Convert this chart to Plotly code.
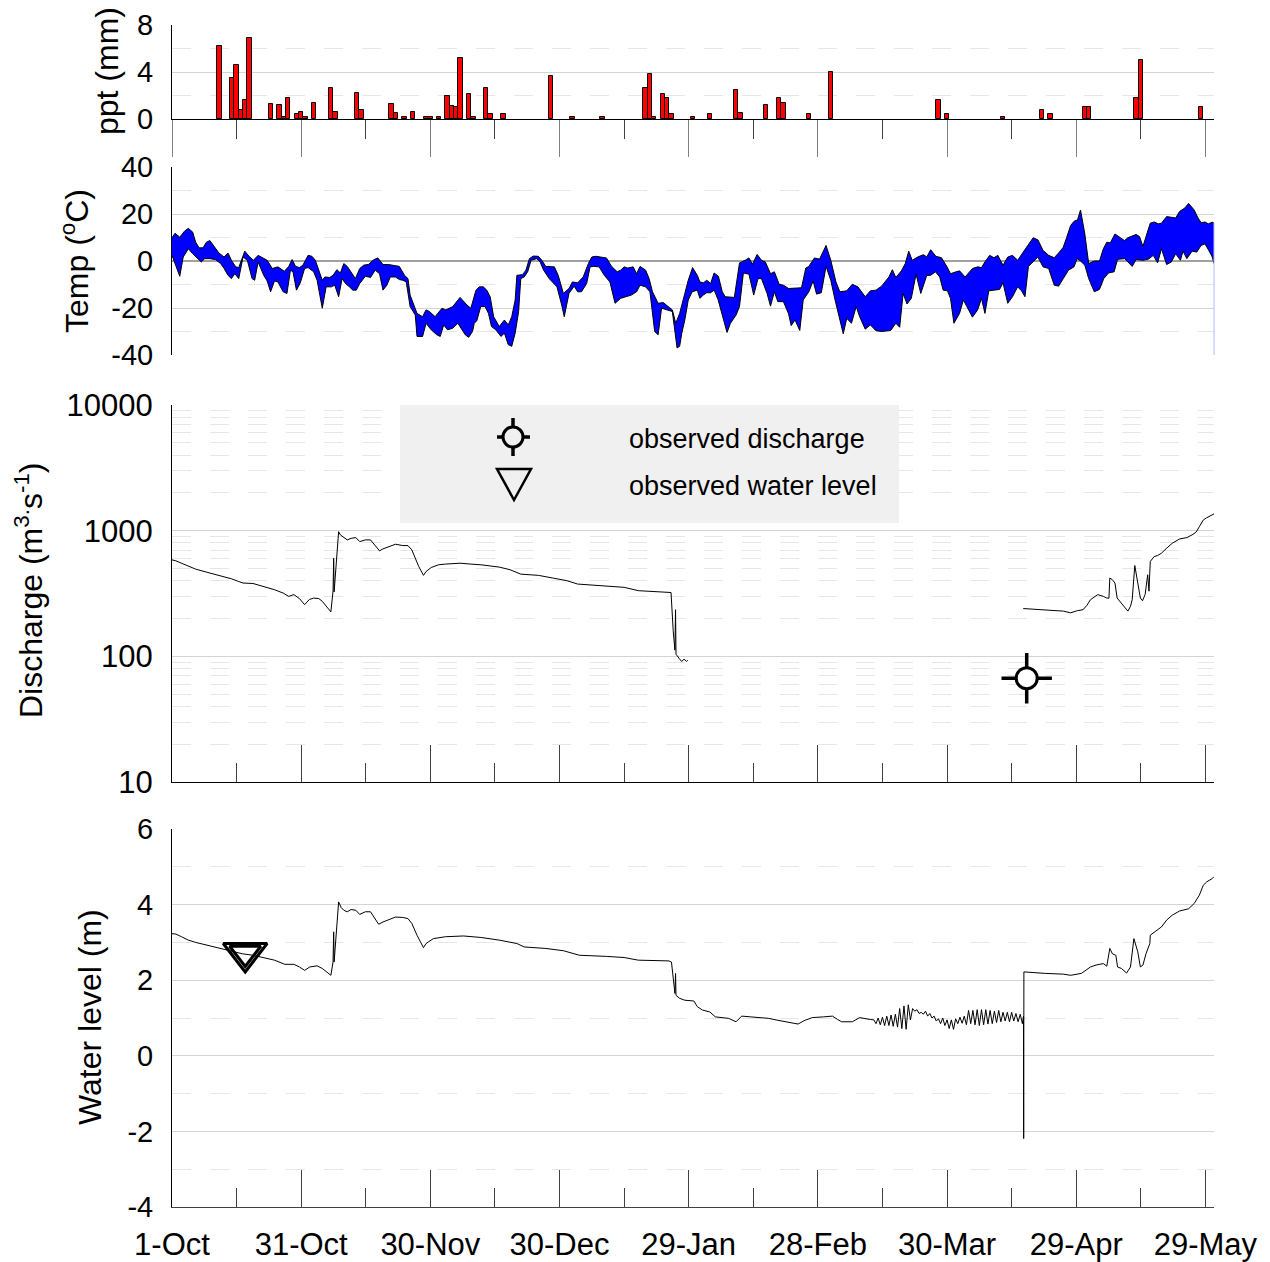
import plotly.graph_objects as go

# ---------------- data ----------------
x_tick_days = [0, 30, 60, 90, 120, 150, 180, 210, 240]
x_tick_labels = ["1-Oct", "31-Oct", "30-Nov", "30-Dec", "29-Jan", "28-Feb", "30-Mar", "29-Apr", "29-May"]
x_minor_days = [15, 45, 75, 105, 135, 165, 195, 225]

# daily precipitation (day offset from 1-Oct, mm)
ppt_day = [11, 14, 15, 16, 17, 18, 23, 25, 26, 27, 29, 30, 31, 33, 37, 38, 43, 44, 51, 52,
           54, 56, 59, 60, 62, 64, 65, 66, 67, 69, 70, 73, 74, 77, 88, 93, 100, 110, 111, 112,
           114, 115, 116, 121, 125, 131, 132, 138, 141, 142, 148, 153, 178, 180, 193, 202, 204,
           212, 213, 224, 225, 239]
ppt_mm = [6.2, 3.5, 4.6, 0.8, 1.6, 6.9, 1.3, 1.2, 0.2, 1.8, 0.4, 0.6, 0.2, 1.4, 2.6, 0.6, 2.2, 0.8, 1.3, 0.5,
          0.2, 0.6, 0.2, 0.2, 0.2, 2.0, 1.1, 1.0, 5.2, 2.1, 0.2, 2.6, 0.4, 0.4, 3.7, 0.2, 0.2, 2.6, 3.8, 0.2,
          2.1, 1.8, 0.4, 0.2, 0.4, 2.5, 0.5, 1.2, 1.8, 1.4, 0.4, 4.0, 1.6, 0.4, 0.2, 0.8, 0.4,
          1.0, 1.0, 1.8, 5.0, 1.0]

# daily max temperature (day, degC)
tmax = [(0, 9.9), (0.7, 11.8), (1.8, 10.1), (2.9, 12.7), (3.8, 13.9), (4.8, 12.3), (5.5, 8.0), (6.3, 5.6),
        (7.2, 5.6), (8.0, 8.0), (8.8, 8.7), (9.7, 6.2), (10.9, 3.4), (12.1, 1.7), (13.0, 3.4), (13.8, 0.3),
        (14.8, -2.5), (15.5, -2.8), (16.5, 2.7), (16.9, 4.2), (17.9, 2.0), (18.9, 0.3), (20.0, 2.4), (21.3, 1.0),
        (22.1, 0.3), (23.3, -3.2), (24.6, -2.5), (26.1, -4.4), (27.1, -2.3), (27.9, 0.6), (28.7, -2.3),
        (29.6, -2.8), (30.4, -1.8), (31.6, 2.4), (32.5, 2.0), (33.3, 0.3), (34.1, -3.9), (34.9, -8.2),
        (35.5, -6.8), (36.6, -7.0), (37.4, -6.1), (38.3, -3.7), (39.1, -5.1), (39.9, -1.1), (40.7, -2.3),
        (42.0, -6.1), (42.6, -7.5), (43.6, -3.2), (44.5, -1.8), (45.7, -1.4), (46.9, 0.6), (47.8, 1.3),
        (49.0, -1.5), (50.3, -1.5), (51.5, -1.8), (52.8, -2.3), (54.0, -6.1), (54.8, -7.5), (55.3, -14.5),
        (56.1, -18.0), (56.9, -22.3), (58.2, -23.7), (59.0, -20.8), (59.8, -21.5), (61.1, -23.7), (62.7, -20.1),
        (63.6, -20.8), (65.2, -19.4), (66.9, -15.5), (68.5, -18.7), (69.4, -20.1), (70.6, -12.4), (71.4, -11.0),
        (72.3, -11.0), (73.1, -12.4), (73.9, -15.2), (74.7, -23.7), (76.0, -27.9), (77.2, -25.1), (78.1, -27.2),
        (78.9, -23.7), (79.7, -16.6), (80.1, -6.1), (81.4, -5.8), (82.2, -3.9), (83.0, 1.0), (83.9, 2.1),
        (85.1, 2.0), (85.9, 0.3), (86.8, -2.3), (88.0, -2.3), (88.8, -2.5), (89.7, -6.1), (90.9, -13.8),
        (92.2, -11.7), (93.0, -8.9), (94.2, -9.3), (95.5, -6.8), (96.7, -1.1), (97.5, 1.7), (98.4, 2.0),
        (100.0, 1.7), (100.9, 1.3), (102.1, -2.3), (103.4, -4.6), (104.2, -3.9), (105.0, -2.5), (105.8, -3.0),
        (107.1, -2.5), (107.9, -5.4), (108.7, -2.3), (110.0, -3.9), (110.8, -7.5), (111.6, -13.1), (112.9, -18.0),
        (114.1, -17.7), (115.4, -19.4), (116.2, -20.8), (117.0, -26.5), (117.9, -22.3), (119.1, -13.8),
        (119.9, -8.2), (120.9, -2.8), (122.0, -6.1), (122.6, -8.9), (123.4, -9.3), (124.2, -8.2), (125.1, -9.6),
        (125.9, -5.1), (126.9, -6.5), (127.8, -13.1), (128.5, -15.2), (130.6, -15.5), (131.8, -0.8), (133.1, 0.3),
        (134.0, 1.3), (134.8, -1.4), (135.9, 2.8), (136.9, 0.3), (137.8, -0.4), (139.0, -5.4), (139.9, -4.6),
        (141.0, -9.9), (142.0, -10.3), (143.2, -11.7), (145.4, -11.7), (146.2, -11.4), (147.2, -3.0),
        (147.9, -2.3), (149.2, 1.3), (150.4, 0.8), (151.9, 6.6), (153.0, 0.3), (154.2, -8.9), (155.1, -13.1),
        (156.7, -12.7), (158.0, -9.9), (159.3, -11.0), (161.0, -15.2), (162.2, -12.7), (163.5, -12.4),
        (164.8, -10.7), (166.5, -6.8), (167.3, -3.7), (168.1, -7.0), (169.4, -4.2), (170.3, -1.1), (171.1, 4.2),
        (171.9, 0.3), (173.2, 1.7), (174.5, 2.7), (175.3, 1.7), (176.2, 4.8), (177.4, 2.0), (178.7, 1.4),
        (180.0, -2.5), (180.8, -5.4), (182.1, -4.6), (182.9, -4.2), (184.2, -6.8), (185.9, -3.2), (187.1, -2.5),
        (188.0, -2.8), (188.8, -0.4), (189.9, 2.4), (190.9, 1.4), (191.8, 2.4), (193.0, -1.8), (194.1, 1.7),
        (195.2, 2.4), (196.4, 0.3), (197.7, 3.8), (198.9, 7.0), (200.0, 9.9), (201.1, 9.0), (202.3, 4.5),
        (203.6, 2.4), (204.9, 1.4), (206.1, 3.8), (207.0, 5.9), (207.8, 10.1), (208.7, 15.1), (209.5, 16.9),
        (210.3, 17.5), (211.0, 21.7), (212.0, 11.5), (212.9, -1.1), (214.2, 0.0), (215.4, 0.0), (216.3, 5.2),
        (217.1, 8.0), (217.9, 7.7), (219.0, 11.5), (220.1, 9.9), (221.2, 8.7), (222.0, 9.9), (223.0, 10.8),
        (223.9, 11.3), (224.7, 10.4), (225.5, 6.2), (226.4, 11.5), (227.2, 16.1), (228.1, 16.6), (229.1, 15.8),
        (229.8, 16.1), (231.0, 18.9), (232.1, 18.6), (233.1, 18.3), (234.0, 21.1), (235.2, 22.5), (236.1, 24.5),
        (237.4, 21.7), (238.2, 18.6), (239.0, 16.3), (239.9, 16.6), (240.7, 15.8), (241.6, 16.5), (242.0, 16.1)]

# daily min temperature (day, degC)
tmin = [(0, 2.4), (0.9, -2.5), (1.8, -6.5), (2.6, 1.7), (3.8, 5.2), (4.8, 3.1), (5.9, 1.0), (6.8, -0.4),
        (7.6, 1.0), (8.8, 1.0), (10.1, 0.6), (11.3, -1.1), (12.1, -3.2), (13.0, -6.1), (13.8, -7.5), (14.6, -5.4),
        (15.5, -7.5), (16.5, 1.7), (17.5, 0.3), (18.6, -7.5), (19.2, -8.2), (20.0, -0.4), (21.3, -6.1),
        (22.1, -8.5), (22.9, -13.1), (23.8, -8.5), (24.6, -8.9), (25.8, -13.1), (26.7, -13.8), (27.5, -3.9),
        (28.1, -4.6), (28.9, -12.4), (29.8, -9.3), (30.8, -3.2), (31.6, -2.8), (32.9, -4.6), (33.7, -8.2),
        (34.9, -20.1), (35.8, -11.0), (37.0, -11.0), (37.8, -10.3), (38.7, -15.2), (39.5, -7.5), (40.3, -9.6),
        (41.2, -11.0), (42.0, -12.4), (42.8, -12.4), (43.6, -9.6), (44.9, -6.5), (46.1, -7.0), (47.2, -3.9),
        (48.2, -5.4), (49.0, -12.4), (49.9, -10.3), (50.7, -6.8), (51.9, -6.8), (52.8, -7.9), (53.6, -8.2),
        (54.4, -8.9), (55.3, -19.4), (56.5, -23.0), (56.9, -32.1), (58.2, -32.1), (59.0, -26.5), (60.2, -29.3),
        (61.5, -31.4), (62.3, -32.1), (63.1, -27.2), (64.0, -29.3), (65.2, -28.6), (66.4, -26.5), (67.3, -29.3),
        (68.1, -31.4), (68.9, -32.5), (69.8, -30.0), (70.2, -26.5), (70.8, -25.4), (71.7, -19.4), (72.7, -19.4),
        (73.5, -22.3), (74.2, -27.9), (75.2, -29.3), (76.4, -32.1), (77.2, -30.7), (78.1, -35.6), (78.9, -36.3),
        (79.7, -30.7), (80.5, -21.5), (81.0, -7.5), (81.8, -6.8), (82.6, -4.6), (83.4, 0.3), (84.7, 1.0),
        (85.5, -0.4), (86.3, -3.9), (87.6, -7.5), (88.4, -8.9), (89.4, -11.0), (90.5, -18.7), (91.1, -23.7),
        (92.2, -13.8), (93.4, -10.7), (94.2, -13.1), (95.1, -13.1), (96.3, -9.6), (97.1, -2.5), (97.9, -2.3),
        (99.2, -2.5), (100.4, -6.1), (101.7, -8.9), (102.9, -18.0), (104.2, -15.9), (105.4, -15.2), (106.7, -14.5),
        (107.9, -13.1), (108.7, -10.3), (110.0, -11.0), (111.0, -13.1), (112.1, -30.0), (112.9, -31.4),
        (113.7, -20.1), (115.0, -20.8), (116.2, -21.5), (117.3, -37.0), (117.9, -36.3), (118.4, -30.7),
        (119.1, -25.1), (119.9, -16.6), (120.8, -13.1), (122.0, -12.4), (122.6, -15.9), (123.4, -14.5),
        (124.2, -13.5), (125.1, -13.5), (125.9, -12.4), (126.8, -16.3), (127.6, -21.5), (128.9, -30.4),
        (129.7, -26.5), (131.0, -23.0), (131.8, -19.4), (132.7, -5.1), (134.0, -5.6), (135.1, -14.5),
        (136.1, -7.5), (136.9, -7.5), (138.2, -13.8), (139.0, -19.2), (139.9, -13.1), (140.7, -17.3),
        (142.0, -17.3), (143.2, -22.5), (143.8, -27.5), (144.7, -25.1), (145.8, -29.6), (146.6, -16.6),
        (147.9, -13.1), (148.9, -8.5), (149.7, -14.1), (150.8, -13.5), (151.9, -2.3), (153.0, -8.2),
        (154.0, -16.6), (155.1, -25.1), (155.9, -31.0), (156.7, -24.4), (157.8, -26.5), (158.9, -19.4),
        (159.7, -23.7), (161.0, -29.0), (162.2, -27.2), (163.5, -29.7), (164.8, -30.0), (166.9, -29.6),
        (168.1, -26.5), (169.0, -28.2), (169.8, -13.8), (170.7, -18.3), (171.7, -15.9), (172.8, -5.6),
        (173.9, -13.8), (175.3, -6.1), (176.2, -6.1), (177.3, -4.6), (178.3, -6.8), (179.1, -12.4),
        (180.1, -12.7), (180.8, -15.9), (181.6, -26.5), (182.9, -22.3), (183.8, -16.6), (184.6, -19.4),
        (185.9, -23.9), (187.1, -20.8), (188.0, -15.9), (188.8, -22.3), (189.7, -12.7), (190.9, -12.4),
        (192.2, -12.1), (193.0, -9.3), (194.1, -18.0), (195.2, -15.2), (196.4, -11.0), (197.3, -12.7),
        (198.1, -15.2), (198.9, -2.3), (200.2, 0.0), (201.1, 1.7), (202.3, -2.5), (203.6, -3.2), (204.9, -10.3),
        (205.9, -10.7), (207.0, -7.5), (208.2, -3.9), (209.5, -2.5), (210.2, 1.0), (211.0, 0.0), (212.0, -1.8),
        (212.9, -7.5), (214.2, -13.1), (215.4, -12.1), (216.4, -7.5), (217.5, -5.1), (218.8, -4.6), (219.6, 0.7),
        (221.2, 1.0), (222.0, -0.4), (223.0, -2.3), (223.9, 0.6), (225.5, 0.3), (226.8, 0.8), (227.9, 2.4),
        (228.9, -0.8), (229.8, 5.2), (231.0, -1.5), (232.1, -0.4), (233.1, 3.1), (234.2, 0.3), (234.8, 4.2),
        (235.7, 1.0), (236.9, 4.2), (238.0, 3.8), (239.0, 6.6), (239.9, 7.3), (240.7, 4.8), (241.6, 1.7),
        (242.0, -1.1)]

# simulated discharge (day, m3/s), two segments
q_part1 = [(0, 586), (0.9, 575), (2.2, 551), (3.8, 519), (5.5, 494), (8.0, 468), (10.5, 446), (13.8, 414),
           (15.5, 394), (16.5, 383), (18.8, 380), (21.3, 360), (23.8, 339), (25.8, 319), (27.1, 300), (28.3, 310),
           (29.6, 288), (30.8, 258), (31.9, 283), (32.9, 291), (34.1, 288), (34.9, 274), (35.5, 258), (36.2, 243),
           (36.9, 226), (37.4, 330), (37.55, 603), (37.65, 325), (38.3, 700), (38.7, 982), (39.1, 925),
           (39.9, 881), (40.7, 844), (41.6, 869), (42.7, 881), (43.6, 818), (44.9, 844), (46.1, 844), (46.9, 780),
           (48.2, 691), (49.0, 716), (50.3, 743), (51.9, 780), (53.6, 761), (54.8, 761), (55.7, 703), (56.5, 604),
           (57.3, 519), (58.4, 441), (59.0, 473), (60.2, 509), (61.9, 535), (63.5, 542), (66.9, 551), (69.4, 542),
           (71.8, 535), (76.0, 513), (78.5, 489), (81.0, 451), (85.1, 441), (88.4, 420), (91.7, 400), (94.2, 376),
           (96.7, 372), (100.9, 365), (105.0, 354), (108.3, 333), (111.6, 329), (115.4, 325), (115.9, 322),
           (116.4, 160), (116.8, 112), (116.95, 235), (117.05, 104), (117.8, 96), (118.4, 91), (118.9, 95),
           (119.5, 91), (119.8, 93)]
q_part2 = [(197.7, 240), (202.8, 233), (207.0, 229), (208.7, 222), (210.3, 231), (211.6, 235), (212.5, 255),
           (213.3, 282), (214.2, 295), (215.0, 310), (216.3, 300), (217.1, 291), (217.6, 290), (217.8, 420),
           (218.4, 407), (219.0, 383), (219.5, 291), (220.1, 274), (220.7, 258), (221.3, 243), (222.0, 229),
           (222.6, 250), (223.0, 282), (223.6, 528), (224.3, 394), (224.9, 291), (225.4, 277), (226.0, 310),
           (226.6, 446), (226.9, 330), (227.2, 569), (228.1, 622), (228.9, 634), (229.8, 662), (231.0, 725),
           (232.3, 794), (234.0, 859), (235.7, 881), (236.9, 925), (237.8, 970), (238.6, 1076), (239.5, 1215),
           (240.3, 1267), (241.6, 1330), (242.0, 1360)]
obs_q_day = [198.5]
obs_q = [67]

# water level (day, m)
wl = [(0, 3.23), (0.9, 3.22), (2.2, 3.15), (3.8, 3.06), (5.5, 3.00), (8.0, 2.93), (10.5, 2.85), (13.0, 2.79),
      (16.3, 2.70), (18.8, 2.66), (21.3, 2.60), (23.8, 2.53), (26.2, 2.42), (28.3, 2.42), (29.6, 2.35),
      (30.8, 2.26), (32.0, 2.35), (33.7, 2.38), (34.9, 2.31), (36.2, 2.19), (36.9, 2.13), (37.4, 2.48),
      (37.55, 3.28), (37.65, 2.48), (38.3, 3.6), (38.7, 4.07), (39.3, 3.92), (39.9, 3.85), (40.7, 3.81),
      (41.6, 3.87), (42.7, 3.85), (43.6, 3.74), (44.9, 3.81), (46.1, 3.81), (46.9, 3.67), (48.0, 3.48),
      (49.0, 3.54), (50.3, 3.60), (51.9, 3.67), (53.6, 3.66), (54.8, 3.63), (55.7, 3.50), (56.9, 3.19),
      (58.4, 2.86), (59.0, 2.97), (60.7, 3.10), (63.5, 3.15), (67.7, 3.17), (71.8, 3.13), (76.0, 3.06),
      (80.1, 2.97), (81.8, 2.88), (86.8, 2.84), (90.9, 2.78), (94.6, 2.66), (100.9, 2.63), (105.0, 2.60),
      (108.3, 2.53), (111.6, 2.53), (115.4, 2.51), (116.0, 2.48), (116.5, 2.00), (116.8, 1.65), (116.95, 2.18),
      (117.05, 1.60), (117.9, 1.52), (119.1, 1.47), (121.2, 1.45), (122.0, 1.30), (123.2, 1.21), (124.9, 1.16),
      (126.2, 1.03), (127.6, 1.01), (129.3, 0.99), (131.0, 0.90), (132.3, 1.05), (134.4, 1.03), (136.5, 1.01),
      (138.6, 0.99), (140.7, 0.94), (142.8, 0.90), (145.4, 0.84), (147.0, 0.94), (148.7, 1.01), (151.3, 1.03),
      (153.4, 1.05), (154.6, 0.96), (155.5, 0.90), (158.0, 0.90), (159.7, 1.01), (162.2, 0.96),
      (163.0, 0.95), (163.5, 0.85), (164.0, 1.00), (164.5, 0.82), (165.0, 1.02), (165.5, 0.80), (166.0, 1.05),
      (166.5, 0.80), (167.0, 1.08), (167.5, 0.78), (168.0, 1.10), (168.5, 0.76), (169.0, 1.25), (169.5, 0.72),
      (170.0, 1.32), (170.5, 0.70), (171.0, 1.35), (171.5, 0.95), (172.0, 1.25), (172.5, 1.18), (173.0, 1.22),
      (173.5, 1.12), (174.0, 1.15), (174.5, 1.10), (175.0, 1.18), (175.5, 1.05), (176.0, 1.12), (176.5, 1.00),
      (177.0, 1.05), (177.5, 0.92), (178.0, 0.98), (178.5, 0.85), (179.0, 1.00), (179.5, 0.80), (180.0, 0.95),
      (180.5, 0.72), (181.0, 0.95), (181.5, 0.70), (182.0, 0.98), (182.5, 0.85), (183.0, 1.02), (183.5, 0.86),
      (184.0, 1.05), (184.5, 0.82), (185.0, 1.20), (185.5, 0.85), (186.0, 1.20), (186.5, 0.82), (187.0, 1.22),
      (187.5, 0.80), (188.0, 1.22), (188.5, 0.82), (189.0, 1.22), (189.5, 0.84), (190.0, 1.20), (190.5, 0.85),
      (191.0, 1.18), (191.5, 0.88), (192.0, 1.20), (192.5, 0.90), (193.0, 1.15), (193.5, 0.92), (194.0, 1.15),
      (194.5, 0.90), (195.0, 1.15), (195.5, 0.92), (196.0, 1.12), (196.5, 0.90), (197.0, 1.10), (197.5, 0.85),
      (197.75, 1.05), (197.8, -2.19), (197.85, 2.22), (202.8, 2.18), (207.0, 2.16), (208.7, 2.13),
      (211.2, 2.18), (213.3, 2.35), (214.6, 2.40), (216.3, 2.44), (217.1, 2.37), (217.8, 2.84), (218.4, 2.70),
      (219.2, 2.66), (219.6, 2.35), (220.5, 2.31), (221.7, 2.19), (222.6, 2.35), (223.4, 3.10), (224.3, 2.75),
      (224.9, 2.35), (225.5, 2.40), (226.2, 2.70), (227.1, 2.97), (227.2, 3.19), (228.5, 3.30), (229.8, 3.41),
      (231.0, 3.59), (232.3, 3.72), (234.0, 3.83), (236.1, 3.89), (237.4, 4.03), (238.6, 4.25), (239.5, 4.51),
      (240.3, 4.60), (241.6, 4.69), (242.0, 4.74)]
obs_wl_day = [17]
obs_wl = [2.72]

# ---------------- figure ----------------
W, H = 1270, 1262
FONT = "Liberation Sans, Arial, sans-serif"


def px(x):
    return x / W


def py(y):
    return 1 - y / H


XDOM = [px(172), px(1214)]
XRANGE = [0, 242]

fig = go.Figure()

# precipitation
fig.add_trace(go.Bar(x=ppt_day, y=ppt_mm, width=1, marker=dict(color="#ff0000", line=dict(color="black", width=1)),
                     xaxis="x", yaxis="y"))

# temperature band
fig.add_trace(go.Scatter(x=[d for d, _ in tmin], y=[v for _, v in tmin], mode="lines",
                         line=dict(color="black", width=1), xaxis="x2", yaxis="y2"))
fig.add_trace(go.Scatter(x=[d for d, _ in tmax], y=[v for _, v in tmax], mode="lines",
                         line=dict(color="black", width=1), fill="tonexty", fillcolor="#0000ff",
                         xaxis="x2", yaxis="y2"))

# discharge
for seg in (q_part1, q_part2):
    fig.add_trace(go.Scatter(x=[d for d, _ in seg], y=[v for _, v in seg], mode="lines",
                             line=dict(color="black", width=1), xaxis="x3", yaxis="y3"))
fig.add_trace(go.Scatter(x=obs_q_day, y=obs_q, mode="markers",
                         marker=dict(symbol="cross-thin-open", size=36, color="black",
                                     line=dict(color="black", width=3.5)),
                         xaxis="x3", yaxis="y3"))
fig.add_trace(go.Scatter(x=obs_q_day, y=obs_q, mode="markers",
                         marker=dict(symbol="circle", size=21, color="white", line=dict(color="black", width=3)),
                         xaxis="x3", yaxis="y3"))

# water level
fig.add_trace(go.Scatter(x=[d for d, _ in wl], y=[v for _, v in wl], mode="lines",
                         line=dict(color="black", width=1), xaxis="x4", yaxis="y4"))
fig.add_trace(go.Scatter(x=obs_wl_day, y=obs_wl, mode="markers",
                         marker=dict(symbol="triangle-down-open", size=38, color="black",
                                     line=dict(color="black", width=3)),
                         xaxis="x4", yaxis="y4"))
fig.add_trace(go.Scatter(x=obs_wl_day, y=obs_wl, mode="markers",
                         marker=dict(symbol="triangle-down-open", size=27, color="black",
                                     line=dict(color="black", width=3)),
                         xaxis="x4", yaxis="y4"))

GRID = "#d4d4d4"
MINGRID = "#e6e6e6"
DASH = "19px,19px"
tickfont = dict(family=FONT, size=29, color="black")
tickfont_q = dict(family=FONT, size=31, color="black")

common_x = dict(domain=XDOM, range=XRANGE, showgrid=False, zeroline=False, tickmode="array",
                tickvals=x_tick_days, fixedrange=True, automargin=False)

fig.update_layout(
    template="none",
    width=W, height=H, margin=dict(l=0, r=0, t=0, b=0, pad=0, autoexpand=False),
    paper_bgcolor="white", plot_bgcolor="white",
    showlegend=False, font=dict(family=FONT, color="black"), bargap=0,
    xaxis=dict(**common_x, anchor="y", showline=True, linecolor="black", linewidth=1,
               ticks="outside", ticklen=37, tickcolor="#808080", tickwidth=1, showticklabels=False,
               minor=dict(tickmode="array", tickvals=x_minor_days, ticks="outside", ticklen=19,
                          tickcolor="#404040", tickwidth=1)),
    yaxis=dict(domain=[py(119), py(25)], anchor="x", range=[0, 8], tickmode="array", tickvals=[0, 4, 8],
               ticktext=["0", "4", "8"], tickfont=tickfont, ticks="", ticklabelstandoff=12, automargin=False,
               showgrid=True, gridcolor=GRID, zeroline=False, showline=True, linecolor="black",
               minor=dict(tickmode="array", tickvals=[2, 6], showgrid=True, gridcolor=MINGRID, griddash=DASH,
                          ticks="")),
    xaxis2=dict(**common_x, anchor="y2", showline=False, ticks="", showticklabels=False),
    yaxis2=dict(domain=[py(355), py(167)], anchor="x2", range=[-40, 40], tickmode="array",
                tickvals=[-40, -20, 0, 20, 40], ticktext=["-40", "-20", "0", "20", "40"], tickfont=tickfont,
                ticks="", ticklabelstandoff=12, automargin=False, showgrid=True, gridcolor=GRID, zeroline=True,
                zerolinecolor="#a0a0a0", zerolinewidth=2, showline=True, linecolor="black",
                minor=dict(tickmode="array", tickvals=[-30, -10, 10, 30], showgrid=True, gridcolor=MINGRID,
                           griddash=DASH, ticks="")),
    xaxis3=dict(**common_x, anchor="y3", showline=True, linecolor="black", linewidth=1,
                ticks="inside", ticklen=37, tickcolor="#404040", tickwidth=1, showticklabels=False,
                minor=dict(tickmode="array", tickvals=x_minor_days, ticks="inside", ticklen=19,
                           tickcolor="#404040", tickwidth=1)),
    yaxis3=dict(domain=[py(782), py(405)], anchor="x3", type="log", range=[1, 4], tickmode="array",
                tickvals=[10, 100, 1000, 10000], ticktext=["10", "100", "1000", "10000"], tickfont=tickfont_q,
                ticks="", ticklabelstandoff=12, automargin=False, showgrid=True, gridcolor=GRID, zeroline=False,
                showline=True, linecolor="black",
                minor=dict(tickmode="array",
                           tickvals=[m * 10 ** e for e in (1, 2, 3) for m in range(2, 10)],
                           showgrid=True, gridcolor=MINGRID, griddash=DASH, ticks="")),
    xaxis4=dict(**common_x, anchor="y4", showline=True, linecolor="#404040", linewidth=1,
                ticks="inside", ticklen=37, tickcolor="#404040", tickwidth=1, showticklabels=True,
                ticktext=x_tick_labels, tickfont=dict(family=FONT, size=31, color="black"),
                ticklabelstandoff=10,
                minor=dict(tickmode="array", tickvals=x_minor_days, ticks="inside", ticklen=19,
                           tickcolor="#404040", tickwidth=1)),
    yaxis4=dict(domain=[py(1207), py(829)], anchor="x4", range=[-4, 6], tickmode="array",
                tickvals=[-4, -2, 0, 2, 4, 6], ticktext=["-4", "-2", "0", "2", "4", "6"], tickfont=tickfont,
                ticks="", ticklabelstandoff=12, automargin=False, showgrid=True, gridcolor=GRID, zeroline=False,
                showline=True, linecolor="black",
                minor=dict(tickmode="array", tickvals=[-3, -1, 1, 3, 5], showgrid=True, gridcolor=MINGRID,
                           griddash=DASH, ticks="")),
)

# legend box (drawn by hand inside the discharge panel) and the pale edge of the temperature area
shapes = [
    dict(type="line", xref="paper", yref="paper", x0=px(1214), x1=px(1214), y0=py(355), y1=py(223),
         line=dict(color="#b8b8ff", width=1), layer="above"),
    dict(type="rect", xref="paper", yref="paper", x0=px(400), x1=px(899), y0=py(523), y1=py(405),
         fillcolor="#f0f0f0", line=dict(width=0), layer="above"),
    dict(type="circle", xref="paper", yref="paper", x0=px(503), x1=px(523), y0=py(447), y1=py(427),
         line=dict(color="black", width=3), layer="above"),
    dict(type="line", xref="paper", yref="paper", x0=px(513), x1=px(513), y0=py(418), y1=py(427),
         line=dict(color="black", width=3.5), layer="above"),
    dict(type="line", xref="paper", yref="paper", x0=px(513), x1=px(513), y0=py(447), y1=py(456),
         line=dict(color="black", width=3.5), layer="above"),
    dict(type="line", xref="paper", yref="paper", x0=px(497), x1=px(503), y0=py(437), y1=py(437),
         line=dict(color="black", width=3.5), layer="above"),
    dict(type="line", xref="paper", yref="paper", x0=px(523), x1=px(530), y0=py(437), y1=py(437),
         line=dict(color="black", width=3.5), layer="above"),
    dict(type="path", xref="paper", yref="paper",
         path=f"M {px(497)} {py(469)} L {px(531)} {py(469)} L {px(514)} {py(500)} Z",
         line=dict(color="black", width=2.5), layer="above"),
]
fig.update_layout(shapes=shapes)

ann = [
    dict(text="observed discharge", x=px(627), y=py(439), xanchor="left", yanchor="middle"),
    dict(text="observed water level", x=px(627), y=py(486), xanchor="left", yanchor="middle"),
]
annotations = [dict(a, xref="paper", yref="paper", showarrow=False, font=dict(family=FONT, size=27, color="black"))
               for a in ann]
titles = [
    ("ppt (mm)", 107, 71),
    ("Temp (<sup>o</sup>C)", 75, 261),
    ("Discharge (m<sup>3.</sup>s<sup>-1</sup>)", 29, 590),
    ("Water level (m)", 90, 1017),
]
for t, x, y in titles:
    annotations.append(dict(text=t, x=px(x), y=py(y), xref="paper", yref="paper", showarrow=False,
                            textangle=-90, xanchor="center", yanchor="middle",
                            font=dict(family=FONT, size=32, color="black")))
fig.update_layout(annotations=annotations)

fig.write_html("out.html")
